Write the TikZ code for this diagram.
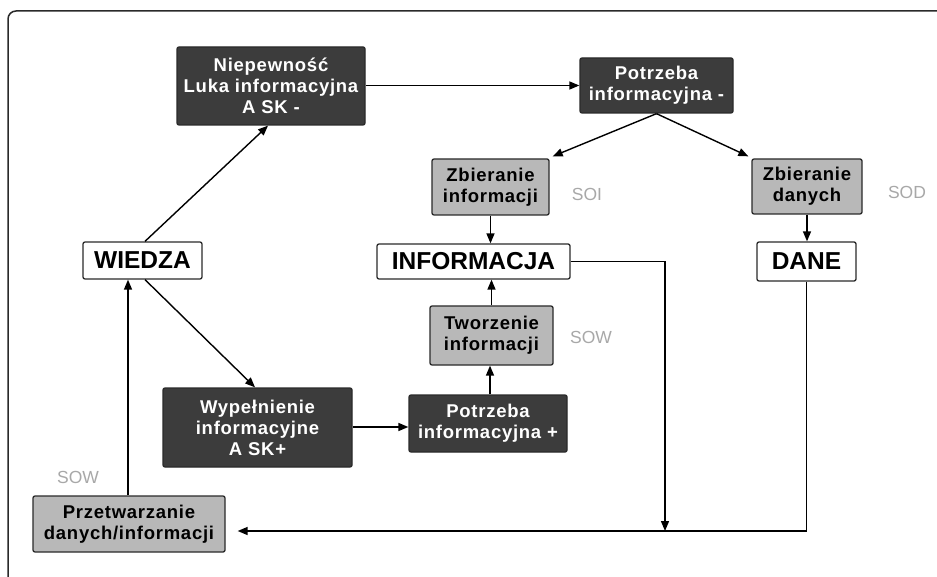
\documentclass[tikz,border=0pt]{standalone}
\usepackage{fontspec}
\setmainfont{Liberation Sans}
\newfontfamily\boxfont[LetterSpace=4]{Liberation Sans}
\usetikzlibrary{arrows.meta,calc}
\definecolor{darkfill}{HTML}{3C3C3C}
\definecolor{lightfill}{HTML}{B8B8B8}
\definecolor{edgecol}{HTML}{2A2A2A}
\definecolor{labelgray}{HTML}{A8A8A8}
\begin{document}
\begin{tikzpicture}[x=1pt,y=-1pt,
  base/.style={draw=edgecol,line width=1.3pt,rounded corners=2pt,align=center,inner sep=0pt,
    font=\boxfont\fontsize{18.5}{21}\selectfont\bfseries},
  darkbox/.style={base,fill=darkfill,text=white},
  lightbox/.style={base,fill=lightfill,text=black},
  whitebox/.style={base,fill=white,text=black,font=\fontsize{24.5}{26}\selectfont\bfseries},
  sidelabel/.style={text=labelgray,font=\fontsize{17.5}{20}\selectfont,inner sep=0pt},
  conn/.style={line width=1.4pt,draw=black,-{Triangle[length=10pt,width=8pt]}},
  plain/.style={line width=1.4pt,draw=black}
]
\useasboundingbox (0,0) rectangle (937,577);
\fill[white] (0,0) rectangle (937,577);
% frame
\draw[line width=1.5pt,draw=edgecol,rounded corners=8pt] (8,600) -- (8,11) -- (960,11);

% nodes
\node[darkbox,minimum width=188,minimum height=78] (nie) at (271,86) {Niepewność\\Luka informacyjna\\A SK -};
\node[darkbox,minimum width=153,minimum height=55] (pm) at (656.5,85.5) {Potrzeba\\informacyjna -};
\node[lightbox,minimum width=117,minimum height=56] (zi) at (490.5,187) {Zbieranie\\informacji};
\node[lightbox,minimum width=110,minimum height=55] (zd) at (807,186.5) {Zbieranie\\danych};
\node[whitebox,minimum width=119,minimum height=37] (wiedza) at (142.5,260.5) {WIEDZA};
\node[whitebox,minimum width=193,minimum height=35] (info) at (473.5,261.5) {INFORMACJA};
\node[whitebox,minimum width=99,minimum height=39] (dane) at (806.5,261.5) {DANE};
\node[lightbox,minimum width=123,minimum height=59] (tw) at (491.5,335.5) {Tworzenie\\informacji};
\node[darkbox,minimum width=189,minimum height=79] (wyp) at (257.5,427.5) {Wypełnienie\\informacyjne\\A SK+};
\node[darkbox,minimum width=158,minimum height=57] (pp) at (488,423.5) {Potrzeba\\informacyjna +};
\node[lightbox,minimum width=192,minimum height=56] (prz) at (129,524) {Przetwarzanie\\danych/informacji};

% labels
\node[sidelabel] (soi) at (587,194) {SOI};
\node[sidelabel] (sod) at (907,192) {SOD};
\node[sidelabel] (sow1) at (591,337) {SOW};
\node[sidelabel] (sow2) at (78,477) {SOW};

% helper coordinates
\coordinate (bl) at (665,531);

% connectors
\draw[conn] ([xshift=2.5pt]wiedza.north) -- ([xshift=-3pt]nie.south);
\draw[conn] (nie.east |- pm.west) -- (pm.west);
\draw[conn] (pm.south) -- ([xshift=3pt,yshift=2pt]zi.north east);
\draw[conn] (pm.south) -- ([xshift=-3pt,yshift=2pt]zd.north west);
\draw[conn] (zi.south) -- (zi.south |- info.north);
\draw[conn] (zd.south) -- (zd.south |- dane.north);
\draw[conn] (tw.north) -- (tw.north |- info.south);
\draw[conn] ([xshift=2pt]pp.north) -- ([xshift=2pt]pp.north |- tw.south);
\draw[conn] ([xshift=2.5pt]wiedza.south) -- ([xshift=-2.5pt]wyp.north);
\draw[conn] (wyp.east |- 0,427) -- (pp.west |- 0,427);
\draw[conn] ([xshift=-1pt]prz.north) -- ([xshift=-1pt]prz.north |- wiedza.south);
\draw[conn] (info.east) -| (bl);
\draw[conn,shorten >=12pt] (dane.south) |- (prz.east |- bl);
\end{tikzpicture}
\end{document}
